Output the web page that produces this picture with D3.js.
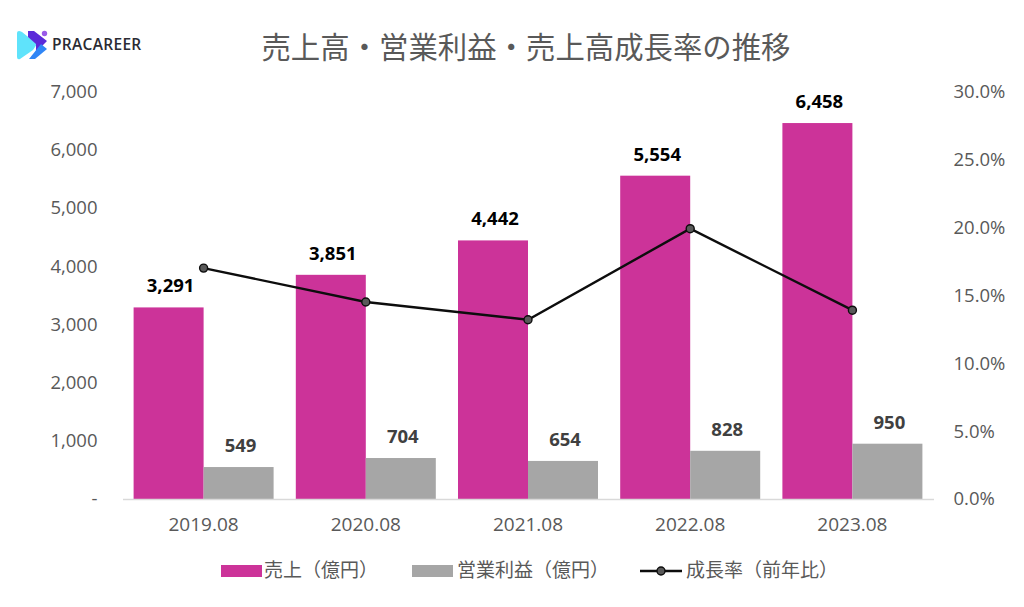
<!DOCTYPE html>
<html>
<head>
<meta charset="utf-8">
<script src="https://cdn.jsdelivr.net/npm/d3@7"></script>
<style>
	html, body { margin: 0; padding: 0; background: #fff; }
	svg { display: block; }
	text { font-family: "Open Sans", "Noto Sans CJK JP", sans-serif; }
</style>
</head>
<body>
<svg id="chart" width="1024" height="607"></svg>
<script>
var years = ["2019.08", "2020.08", "2021.08", "2022.08", "2023.08"];
var sales = [3291, 3851, 4442, 5554, 6458];
var profit = [549, 704, 654, 828, 950];
var growth = [17.0, 14.5, 13.2, 19.9, 13.9];
var leftTicks = [0, 1000, 2000, 3000, 4000, 5000, 6000, 7000];
var rightTicks = [0, 5, 10, 15, 20, 25, 30];

var PINK = "#cc3399", GREY = "#a6a6a6", TEXT = "#595959", DARK = "#404040";

var svg = d3.select("svg#chart"),
	margin = {top: 91.5, right: 90.5, bottom: 108, left: 122.5},
	width = +svg.attr("width") - margin.left - margin.right,
	height = +svg.attr("height") - margin.top - margin.bottom;

var x = d3.scaleBand().domain(years).range([0, width]);
var y = d3.scaleLinear().domain([0, 7000]).range([height, 0]);
var y2 = d3.scaleLinear().domain([0, 30]).range([height, 0]);
var barW = 70;

var g = svg.append("g").attr("transform", "translate(" + margin.left + "," + margin.top + ")");

// Title
svg.append("text")
	.attr("x", 526).attr("y", 58)
	.attr("text-anchor", "middle")
	.attr("font-size", 29.4)
	.attr("fill", TEXT)
	.text("売上高・営業利益・売上高成長率の推移");

// Bars
function cx(d) { return x(d) + x.bandwidth() / 2; }

g.selectAll("rect.sales").data(years).enter().append("rect")
	.attr("class", "sales")
	.attr("x", function(d) { return cx(d) - barW; })
	.attr("y", function(d, i) { return y(sales[i]); })
	.attr("width", barW)
	.attr("height", function(d, i) { return height - y(sales[i]); })
	.attr("fill", PINK);

g.selectAll("rect.profit").data(years).enter().append("rect")
	.attr("class", "profit")
	.attr("x", cx)
	.attr("y", function(d, i) { return y(profit[i]); })
	.attr("width", barW)
	.attr("height", function(d, i) { return height - y(profit[i]); })
	.attr("fill", GREY);

// Axes
var axisX = g.append("g")
	.attr("transform", "translate(0," + height + ")")
	.call(d3.axisBottom(x).tickSize(0).tickPadding(19));
axisX.select(".domain").attr("stroke", "#d9d9d9").attr("stroke-width", 1.5);

var axisL = g.append("g")
	.call(d3.axisLeft(y).tickValues(leftTicks).tickSize(0).tickPadding(25)
		.tickFormat(function(d) { return d === 0 ? "-" : d3.format(",")(d); }));
axisL.select(".domain").remove();

var axisR = g.append("g")
	.attr("transform", "translate(" + width + ",0)")
	.call(d3.axisRight(y2).tickValues(rightTicks).tickSize(0).tickPadding(20)
		.tickFormat(function(d) { return d.toFixed(1) + "%"; }));
axisR.select(".domain").remove();

g.selectAll(".tick text")
	.attr("font-family", null)
	.attr("font-size", 18.5)
	.attr("fill", TEXT);
axisX.selectAll(".tick text").attr("font-size", 19);

// Growth line
var line = d3.line()
	.x(function(d) { return cx(d); })
	.y(function(d, i) { return y2(growth[i]); });

g.append("path")
	.datum(years)
	.attr("d", line)
	.attr("fill", "none")
	.attr("stroke", "#0d0d0d")
	.attr("stroke-width", 2.4);

g.selectAll("circle.growth").data(years).enter().append("circle")
	.attr("class", "growth")
	.attr("cx", cx)
	.attr("cy", function(d, i) { return y2(growth[i]); })
	.attr("r", 4)
	.attr("fill", "#595959")
	.attr("stroke", "#0d0d0d")
	.attr("stroke-width", 1.4);

// Value labels
g.selectAll("text.lab-sales").data(years).enter().append("text")
	.attr("class", "lab-sales")
	.attr("x", function(d) { return cx(d) - barW / 2 + 2; })
	.attr("y", function(d, i) { return y(sales[i]) - 15; })
	.attr("text-anchor", "middle")
	.attr("font-size", 18.5)
	.attr("font-weight", 700)
	.attr("fill", "#000")
	.text(function(d, i) { return d3.format(",")(sales[i]); });

g.selectAll("text.lab-profit").data(years).enter().append("text")
	.attr("class", "lab-profit")
	.attr("x", function(d) { return cx(d) + barW / 2 + 2; })
	.attr("y", function(d, i) { return y(profit[i]) - 15; })
	.attr("text-anchor", "middle")
	.attr("font-size", 18.5)
	.attr("font-weight", 700)
	.attr("fill", DARK)
	.text(function(d, i) { return profit[i]; });

// Legend
var legend = svg.append("g").attr("font-size", 19);
legend.append("rect").attr("x", 221).attr("y", 565).attr("width", 41).attr("height", 12).attr("fill", PINK);
legend.append("text").attr("x", 264).attr("y", 577).attr("fill", TEXT).text("売上（億円）");
legend.append("rect").attr("x", 412).attr("y", 565).attr("width", 41).attr("height", 12).attr("fill", GREY);
legend.append("text").attr("x", 457).attr("y", 577).attr("fill", TEXT).text("営業利益（億円）");
legend.append("line").attr("x1", 640).attr("x2", 682).attr("y1", 571).attr("y2", 571).attr("stroke", "#0d0d0d").attr("stroke-width", 2.4);
legend.append("circle").attr("cx", 661).attr("cy", 571).attr("r", 4).attr("fill", "#595959").attr("stroke", "#0d0d0d").attr("stroke-width", 1.4);
legend.append("text").attr("x", 686).attr("y", 577).attr("fill", TEXT).text("成長率（前年比）");

// Logo
var logo = svg.append("g");
logo.append("path").attr("d", "M19 31 Q17 31 17 33 L17 57 Q17 60 20 59 L33 50 L37 44 L22 32 Q20 31 19 31 Z").attr("fill", "#5fe3fb");
logo.append("path").attr("d", "M28 31 L34 31 L47 41 L36 52 L36 44 L28 37 Z").attr("fill", "#5b2bd9");
logo.append("path").attr("d", "M41 44 L47 49 L35 59 L29 59 Z").attr("fill", "#2f86f6");
logo.append("circle").attr("cx", 44.5).attr("cy", 33.5).attr("r", 2.7).attr("fill", "#9a5be8");
logo.append("text")
	.attr("x", 52).attr("y", 50)
	.attr("font-family", "Inter, sans-serif")
	.attr("font-size", 15.5)
	.attr("font-weight", 600)
	.attr("letter-spacing", 0.3)
	.attr("fill", "#2b2b33")
	.text("PRACAREER");
</script>
</body>
</html>
